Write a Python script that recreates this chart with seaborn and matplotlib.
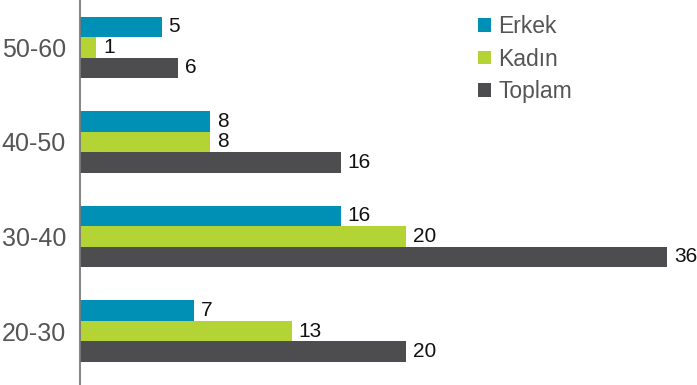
import matplotlib
matplotlib.use("Agg")
import matplotlib.pyplot as plt
import seaborn as sns
import pandas as pd

# Age groups, top to bottom
age_groups = ["50-60", "40-50", "30-40", "20-30"]
erkek = [5, 8, 16, 7]
kadin = [1, 8, 20, 13]
toplam = [6, 16, 36, 20]
series_names = ["Erkek", "Kadın", "Toplam"]
colors = ["#0090b6", "#b4d335", "#4d4d4f"]

rows = []
for name, vals in zip(series_names, [erkek, kadin, toplam]):
    for g, v in zip(age_groups, vals):
        rows.append({"grup": g, "seri": name, "deger": v})
df = pd.DataFrame(rows)

sns.set_theme(style="white")
plt.rcParams["font.family"] = ["Liberation Sans", "DejaVu Sans"]

fig = plt.figure(figsize=(6.97, 3.85), dpi=100)
ax = fig.add_axes([80 / 697, 0.0, 1 - 80 / 697, 1.0])

sns.barplot(data=df, y="grup", x="deger", hue="seri", order=age_groups,
            hue_order=series_names, palette=colors, orient="h",
            width=0.65, gap=0, saturation=1, linewidth=0, edgecolor="none",
            ax=ax, legend=False)

for cont in ax.containers:
    ax.bar_label(cont, padding=5, fontsize=15, color="#111111", clip_on=False)

ax.set_xlim(0, 37.85)
ax.set_ylim(3.57, -0.5)
ax.set_xlabel("")
ax.set_ylabel("")
ax.set_xticks([])
ax.tick_params(axis="y", length=0, pad=10, labelsize=18, labelcolor="#555555")
for side in ["top", "right", "bottom"]:
    ax.spines[side].set_visible(False)
ax.spines["left"].set_color("#7a7a7a")
ax.spines["left"].set_linewidth(1.3)

from matplotlib.patches import Patch
handles = [Patch(facecolor=c, edgecolor="none") for c in colors]
fig.legend(handles, series_names, loc="upper left",
           bbox_to_anchor=(478 / 697, 1 - 15 / 385), frameon=False,
           fontsize=16.5, labelcolor="#555555", handlelength=0.55,
           handleheight=0.55, handletextpad=0.35, labelspacing=0.42,
           borderpad=0, borderaxespad=0)

fig.savefig("out.png", dpi=100)
